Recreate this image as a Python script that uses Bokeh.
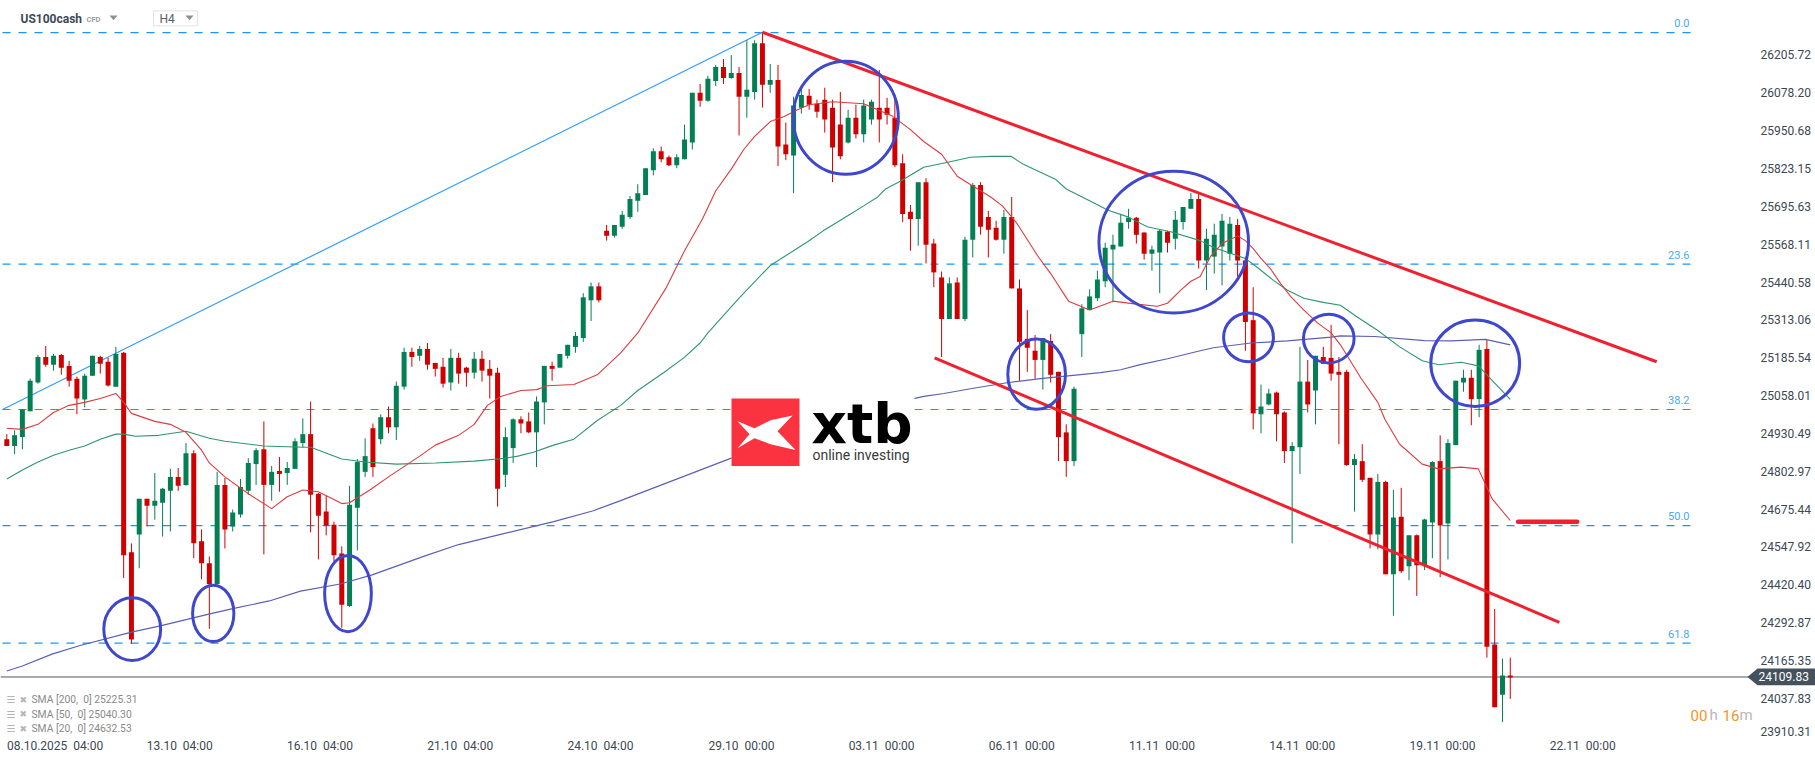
from bokeh.plotting import figure
from bokeh.embed import file_html
from bokeh.resources import INLINE
from bokeh.core.properties import value
from bokeh.models import FixedTicker, Range1d

opens = [24911,24888,24918,25005,25102,25188,25162,25195,25158,25115,25045,25125,25188,25172,25088,25202,24530,24590,24710,24687,
24697,24737,24784,24757,24864,24567,24493,24423,24757,24617,24657,24737,24827,24877,24757,24804,24797,24811,24898,24928,
24727,24667,24623,24526,24349,24680,24801,24948,24911,24985,24951,25088,25205,25192,25215,25168,25155,25102,25185,25152,
25135,25182,25148,25135,24791,24881,24978,24971,24934,25035,25158,25152,25192,25222,25252,25379,25426,25613,25596,25627,
25660,25714,25734,25817,25881,25861,25834,25854,25911,26078,26051,26118,26165,26128,26145,26065,26081,26245,26105,26121,
25904,25867,26028,26068,26041,26055,26028,25971,25911,25994,25938,25988,26028,26028,25994,25841,25677,25653,25777,25570,
25456,25316,25439,25316,25583,25767,25660,25623,25583,25660,25419,25249,25209,25178,25242,25138,24934,24837,25265,25346,
25386,25443,25550,25560,25643,25657,25607,25536,25540,25610,25586,25643,25687,25720,25513,25526,25560,25536,25633,25513,
25312,24995,25028,25068,25001,24871,24884,25105,25075,25188,25185,25138,25138,24824,24837,24781,24590,24767,24456,24650,
24483,24587,24486,24630,24837,24627,24891,25102,25118,25046,25215,24219,24050,24115]
highs = [24928,24941,25011,25115,25195,25225,25198,25198,25175,25122,25132,25192,25192,25185,25222,25205,24560,24710,24710,24797,
24747,24811,24814,24898,24874,24607,24516,24801,24781,24674,24777,24847,24881,24971,24821,24851,24834,24914,24981,25038,
24730,24720,24633,24550,24754,24844,24914,24964,24995,25021,25105,25219,25219,25225,25235,25168,25185,25215,25202,25155,
25205,25209,25178,25152,24951,24981,24988,25001,25055,25158,25172,25198,25229,25272,25403,25439,25439,25633,25633,25680,
25730,25770,25824,25891,25897,25867,25871,25971,26078,26108,26135,26172,26192,26205,26165,26255,26255,26282,26175,26172,
25978,26065,26095,26091,26055,26095,26055,26081,26021,26038,26055,26055,26155,26061,26071,25871,25700,25777,25790,25586,
25476,25456,25456,25593,25774,25777,25680,25647,25683,25727,25449,25346,25262,25252,25265,25138,24961,25088,25366,25416,
25479,25573,25600,25670,25687,25660,25607,25563,25617,25613,25680,25693,25740,25737,25620,25637,25670,25660,25653,25526,
25423,25095,25081,25071,25005,24901,25222,25178,25192,25222,25296,25188,25145,24861,24894,24781,24794,24771,24740,24747,
24587,24590,24643,24837,24924,24911,25108,25145,25145,25229,25245,24339,24172,24175]
lows = [24888,24861,24877,25005,25098,25155,25142,25128,25088,24995,25018,25125,25132,25088,25088,24443,24222,24476,24617,24640,
24583,24600,24737,24754,24510,24439,24272,24416,24543,24600,24647,24724,24757,24523,24704,24734,24757,24811,24884,24597,
24506,24587,24500,24276,24346,24536,24784,24784,24894,24931,24908,25078,25155,25175,25145,25122,25085,25075,25098,25088,
25115,25105,25048,24684,24750,24831,24931,24931,24817,24961,25108,25152,25182,25202,25239,25309,25372,25580,25590,25620,
25653,25677,25734,25800,25844,25831,25824,25854,25887,26031,26048,26101,26108,26125,25934,25994,26055,26028,26078,25831,
25851,25740,26008,26021,25994,25944,25777,25854,25907,25924,25911,25971,25911,25971,25827,25643,25546,25563,25503,25423,
25188,25316,25316,25309,25523,25600,25523,25580,25536,25419,25108,25138,25115,25078,25102,24837,24784,24821,25188,25346,
25376,25423,25372,25560,25620,25570,25516,25479,25403,25540,25550,25617,25687,25486,25413,25469,25429,25513,25459,25209,
24944,24931,25025,24904,24831,24560,24794,25001,24961,25165,25108,24894,24821,24667,24767,24543,24540,24456,24316,24460,
24436,24383,24470,24510,24446,24506,24891,25071,24958,24985,24175,24008,23958,24036]
closes = [24888,24924,25011,25108,25188,25162,25192,25152,25108,25048,25125,25192,25165,25092,25198,24520,24236,24710,24687,24704,
24744,24784,24754,24864,24560,24493,24423,24757,24607,24664,24750,24831,24874,24757,24801,24794,24814,24904,24928,24724,
24653,24620,24520,24353,24690,24834,24854,24817,24985,24951,25091,25205,25188,25215,25162,25148,25098,25185,25132,25135,
25182,25142,25125,24744,24918,24978,24964,24934,25038,25158,25148,25198,25229,25259,25389,25426,25379,25596,25633,25667,
25720,25740,25824,25881,25854,25834,25861,25921,26078,26051,26125,26165,26128,26145,26065,26088,26245,26105,26121,25897,
25871,26035,26071,26038,26014,25988,25894,25864,25994,25938,26035,26048,25988,26004,25834,25670,25653,25777,25566,25473,
25316,25436,25316,25583,25767,25627,25617,25583,25660,25419,25239,25219,25178,25252,25128,24918,24837,25081,25352,25392,
25449,25556,25566,25640,25657,25600,25536,25550,25613,25573,25650,25693,25720,25513,25586,25600,25647,25637,25513,25306,
24998,25021,25065,24995,24871,24888,25105,25028,25192,25165,25132,25128,24824,24844,24774,24590,24767,24456,24647,24466,
24587,24486,24640,24834,24620,24898,25108,25118,25046,25212,24212,24008,24115,24108]

sma20_i = [0,2,4,6,8,10,12,14,15,16,19,21,23,25,26,28,31,34,36,38,40,43,44,46.6,49,53,55,58,60,61.7,63.4,66,68,69.4,72.8,75.8,78.8,
81,84.6,87,89.3,91,93,94.6,96,98,99.8,101.5,103,106,110,113.6,116,117.7,120,122,124,126.3,127.8,129.7,132.3,134,136.3,139,142,145,
147.7,149,150.7,152,153.2,154.5,156,158,159,160,161,162.2,163.5,164.8,166.5,168.3,170,171.2,173.8,176,176.9,178.8,181.7,183.8,186.7,188.9,190.7,193]
sma20_p = [24948,24944,24961,25001,25025,25035,25048,25065,25035,24998,24971,24961,24934,24874,24831,24784,24727,24677,24717,24740,24734,24694,24697,24740,24784,24854,24891,24924,24961,25025,25055,25075,25078,25091,25095,25128,25202,
25269,25419,25546,25653,25747,25821,25887,25931,25981,25998,26021,26038,26048,26041,26001,25954,25914,25871,25797,25764,25727,25697,25637,25530,25469,25376,25346,25376,25366,
25359,25369,25413,25443,25459,25526,25570,25596,25580,25553,25520,25486,25436,25392,25346,25302,25269,25229,25118,25035,24978,24894,24827,24811,24817,24811,24709,24637]
sma50_i = [0,2,4,6,8,10,12,14,15,16.5,19.5,23,26,28,33,38,39,43,46,50,55,60,64,65.6,67.6,70.2,72.8,75.8,78.8,81,84.3,86.9,89,90,94,98,102.8,104.8,107.9,110,111.8,112.8,114.7,117.7,120.8,123.7,126.3,128.9,130.5,134.6,136,139,141.3,143.9,146.4,149.4,153.2,155,159,160.7,162.6,164.4,166.5,169,171.2,173.4,176,178.8,181.7,183.8,186.7,188.9,190.7,193]
sma50_p = [24777,24807,24834,24857,24874,24888,24911,24928,24928,24921,24924,24938,24914,24904,24888,24884,24884,24844,24834,24827,24831,24837,24847,24854,24867,24891,24911,24974,25025,25075,25135,25185,25235,25269,25386,25496,25576,25613,25663,25697,25727,25754,25780,25827,25844,25861,25864,25864,25837,25787,25754,25714,25683,25660,25627,25610,25580,25556,25520,25486,25446,25413,25386,25372,25362,25322,25277,25222,25175,25162,25170,25158,25108,25045]
sma200_i = [0,2,5.8,9.3,16,19.7,25.8,29,33.7,37.7,42.8,46.9,53.5,58,63,70.2,75.3,78.8,93,105,116,117.7,120.3,123.7,128.6,132.7,140.4,143,145.5,149,153.2,154.9,159.7,164.4,170,171.2,175.6,182,185.5,189.8,193]
sma200_p = [24130,24147,24187,24215,24261,24282,24321,24340,24366,24399,24423,24454,24516,24556,24588,24633,24670,24704,24847,24948,25045,25055,25065,25081,25102,25115,25135,25145,25162,25182,25209,25219,25235,25242,25255,25259,25257,25243,25242,25247,25229]

fib_levels = ["0.0", "23.6", "38.2", "50.0", "61.8"]
fib_prices = [26281, 25501, 25011, 24620, 24224]
last_price = 24109.83

price_ticks = [26205.72,26078.20,25950.68,25823.15,25695.63,25568.11,25440.58,25313.06,25185.54,25058.01,24930.49,24802.97,24675.44,24547.92,24420.40,24292.87,24165.35,24037.83,23925.0]
price_labels = ["26205.72","26078.20","25950.68","25823.15","25695.63","25568.11","25440.58","25313.06","25185.54","25058.01","24930.49","24802.97","24675.44","24547.92","24420.40","24292.87","24165.35","24037.83","23910.31"]
date_ticks = [6.2,22.2,40.2,58.2,76.2,94.3,112.3,130.3,148.3,166.3,184.3,202.3]
date_labels = ["08.10.2025\u00a0\u00a004:00","13.10\u00a0\u00a004:00","16.10\u00a0\u00a004:00","21.10\u00a0\u00a004:00","24.10\u00a0\u00a004:00","29.10\u00a0\u00a000:00","03.11\u00a0\u00a000:00","06.11\u00a0\u00a000:00","11.11\u00a0\u00a000:00","14.11\u00a0\u00a000:00","19.11\u00a0\u00a000:00","22.11\u00a0\u00a000:00"]

legend_rows = ["SMA [200,\u00a0\u00a00] 25225.31", "SMA [50,\u00a0\u00a00] 25040.30", "SMA [20,\u00a0\u00a00] 24632.53"]

# trend lines: (bar index, price)
fib_trend = ([-0.55, 97.0], [25011, 26282])
channel_up = ([97.0, 211.8], [26282, 25172])
channel_low = ([119.1, 199.3], [25185, 24294])
target = ([194.0, 201.6], [24633, 24633])

# hand-drawn ellipses: centre bar, centre price, width in bars, height in price
circle_x = [16.1, 26.5, 43.8, 107.7, 132.2, 149.8, 159.4, 169.7, 188.5]
circle_y = [24271, 24324, 24391, 25994, 25130, 25575, 25254, 25250, 25167]
circle_w = [7.3, 5.3, 6.0, 13.5, 7.4, 19.2, 6.4, 6.5, 11.4]
circle_h = [211, 190, 257, 381, 237, 478, 164, 164, 291]

BAR = 7.79
X0 = 6.3
UNITS = 3.344
TOP = 26389.0
FRAME_W = 1815
FRAME_H = 750.6
def X(px): return (px - X0) / BAR
def Y(py): return TOP - UNITS * py

p = figure(width=1815, height=761, output_backend="svg", toolbar_location=None,
           x_range=Range1d(X(0), X(FRAME_W)), y_range=Range1d(Y(FRAME_H), Y(0)),
           y_axis_location="right", min_border_left=0, min_border_top=0,
           min_border_right=0, min_border_bottom=16, background_fill_color="white",
           outline_line_color=None, border_fill_color="white")
p.grid.visible = False

ax = p.yaxis[0]
ax.ticker = FixedTicker(ticks=price_ticks)
ax.major_label_overrides = dict(zip(price_ticks, price_labels))
ax.fixed_location = X(1755)
ax.axis_line_color = None
ax.major_tick_line_color = None
ax.minor_tick_line_color = None
ax.major_tick_out = 0
ax.major_tick_in = 0
ax.major_label_text_font = "Roboto"
ax.major_label_text_font_size = "12px"
ax.major_label_text_color = "#3d4852"
ax.major_label_standoff = 5

bx = p.xaxis[0]
bx.ticker = FixedTicker(ticks=date_ticks)
bx.major_label_overrides = dict(zip(date_ticks, date_labels))
bx.axis_line_color = None
bx.major_tick_line_color = None
bx.minor_tick_line_color = None
bx.major_tick_out = 0
bx.major_tick_in = 0
bx.major_label_text_font = "Roboto"
bx.major_label_text_font_size = "12px"
bx.major_label_text_color = "#3d4852"
bx.major_label_standoff = -7

BLUE = "#1e93f5"
# fibonacci levels and last price
for lvl, pr in zip(fib_levels, fib_prices):
    p.line([X(2), X(1693)], [pr, pr], line_color=BLUE, line_width=1.2, line_dash="8 8")
    p.text([X(1689)], [pr + UNITS * 9.5], text=[lvl], text_align="right", text_baseline="middle",
           text_font=value("Roboto"), text_font_size="11px", text_color="#49a9f4")
p.line(list(fib_trend[0]), list(fib_trend[1]), line_color="#2f9dff", line_width=1.2)
p.line([X(0), X(1750)], [last_price, last_price], line_color="#4a5862", line_width=1)

# candles
up = [i for i in range(len(opens)) if closes[i] >= opens[i]]
dn = [i for i in range(len(opens)) if closes[i] < opens[i]]
GREEN, RED = "#047f53", "#d00000"
for idx, col in ((up, GREEN), (dn, RED)):
    p.segment(idx, [lows[i] for i in idx], idx, [highs[i] for i in idx], line_color=col, line_width=1)
    p.vbar(idx, 0.64, [min(opens[i], closes[i]) for i in idx], [max(opens[i], closes[i]) for i in idx],
           fill_color=col, line_color=None)

# moving averages
p.line(sma200_i, sma200_p, line_color="#5b60b4", line_width=1.2)
p.line(sma50_i, sma50_p, line_color="#2f9571", line_width=1.1)
p.line(sma20_i, sma20_p, line_color="#e03a3f", line_width=1.1)

# drawn channel
TR = "#f0202e"
p.line(*channel_up, line_color=TR, line_width=3)
p.line(*channel_low, line_color=TR, line_width=3)
p.line(*target, line_color=TR, line_width=4.5, line_cap="round")
p.ellipse(circle_x, circle_y, width=circle_w, height=circle_h, fill_color=None,
          line_color="#3f48cc", line_width=3)

# logo
p.quad(left=[X(731)], right=[X(914)], top=[Y(400)], bottom=[Y(470)], fill_color="white", line_color=None)
p.quad(left=[X(731)], right=[X(799)], top=[Y(401)], bottom=[Y(469)], fill_color="#fb3240", line_color=None)
mark = [(737,424),(754,431),(770,423),(792,418),(777,434),(795,453),(770,447),(754,441),(737,451),(749,437)]
p.patch([X(a) for a, b in mark], [Y(b) for a, b in mark], fill_color="white", line_color=None)
p.text([X(811)], [Y(427)], text=["xtb"], text_font=value("DejaVu Sans"), text_font_style="bold",
       text_font_size="55px", text_color="black", text_baseline="middle")
p.text([X(812)], [Y(458)], text=["online investing"], text_font=value("Roboto"),
       text_font_size="14px", text_color="#3a3a3a", text_baseline="middle")

# header
p.text([X(20)], [Y(19)], text=["US100cash"], text_font=value("Roboto"), text_font_style="bold",
       text_font_size="12px", text_color="#3b4a57", text_baseline="middle")
p.text([X(86)], [Y(19.5)], text=["CFD"], text_font=value("Roboto"), text_font_style="bold",
       text_font_size="7.5px", text_color="#9aa0a6", text_baseline="middle")
p.quad(left=[X(153)], right=[X(197)], top=[Y(10.5)], bottom=[Y(25.5)], fill_color="white",
       line_color="#e3e3e3", line_width=1)
p.text([X(159)], [Y(19)], text=["H4"], text_font=value("Roboto"), text_font_size="12px",
       text_color="#56606a", text_baseline="middle")
for cx in (113, 189):
    p.patch([X(cx-4), X(cx+4), X(cx)], [Y(15), Y(15), Y(20)], fill_color="#8f8f8f", line_color=None)

# indicator legend
for row, py in zip(legend_rows, (704.5, 719, 733.5)):
    p.text([X(6)], [Y(py)], text=["☰"], text_font=value("DejaVu Sans"), text_font_size="10px",
           text_color="#b5b5b5", text_baseline="middle")
    p.text([X(19)], [Y(py)], text=["✖"], text_font=value("DejaVu Sans"), text_font_size="9px",
           text_color="#b5b5b5", text_baseline="middle")
    p.text([X(31)], [Y(py)], text=[row], text_font=value("Roboto"), text_font_size="10.3px",
           text_color="#8a8a8a", text_baseline="middle")

# countdown
seg_x = [1690, 1709, 1722, 1739]
seg_t = ["00", "h", "16", "m"]
seg_c = ["#f7941d", "#b8b8b8", "#f7941d", "#b8b8b8"]
for sx, st, sc in zip(seg_x, seg_t, seg_c):
    p.text([X(sx)], [Y(720)], text=[st], text_font=value("Roboto"), text_font_size="15px",
           text_color=sc, text_baseline="middle")

# last-price flag
flag = [(1747, last_price), (1757, Y(673)), (1815, Y(673)), (1815, Y(690)), (1757, Y(690))]
p.patch([X(a) for a, b in flag], [b for a, b in flag], fill_color="#44525e", line_color=None)
p.text([X(1758)], [last_price], text=["24109.83"], text_color="white", text_font=value("Roboto"),
       text_font_size="12px", text_baseline="middle")

open("out.html", "w").write(file_html(p, INLINE))
